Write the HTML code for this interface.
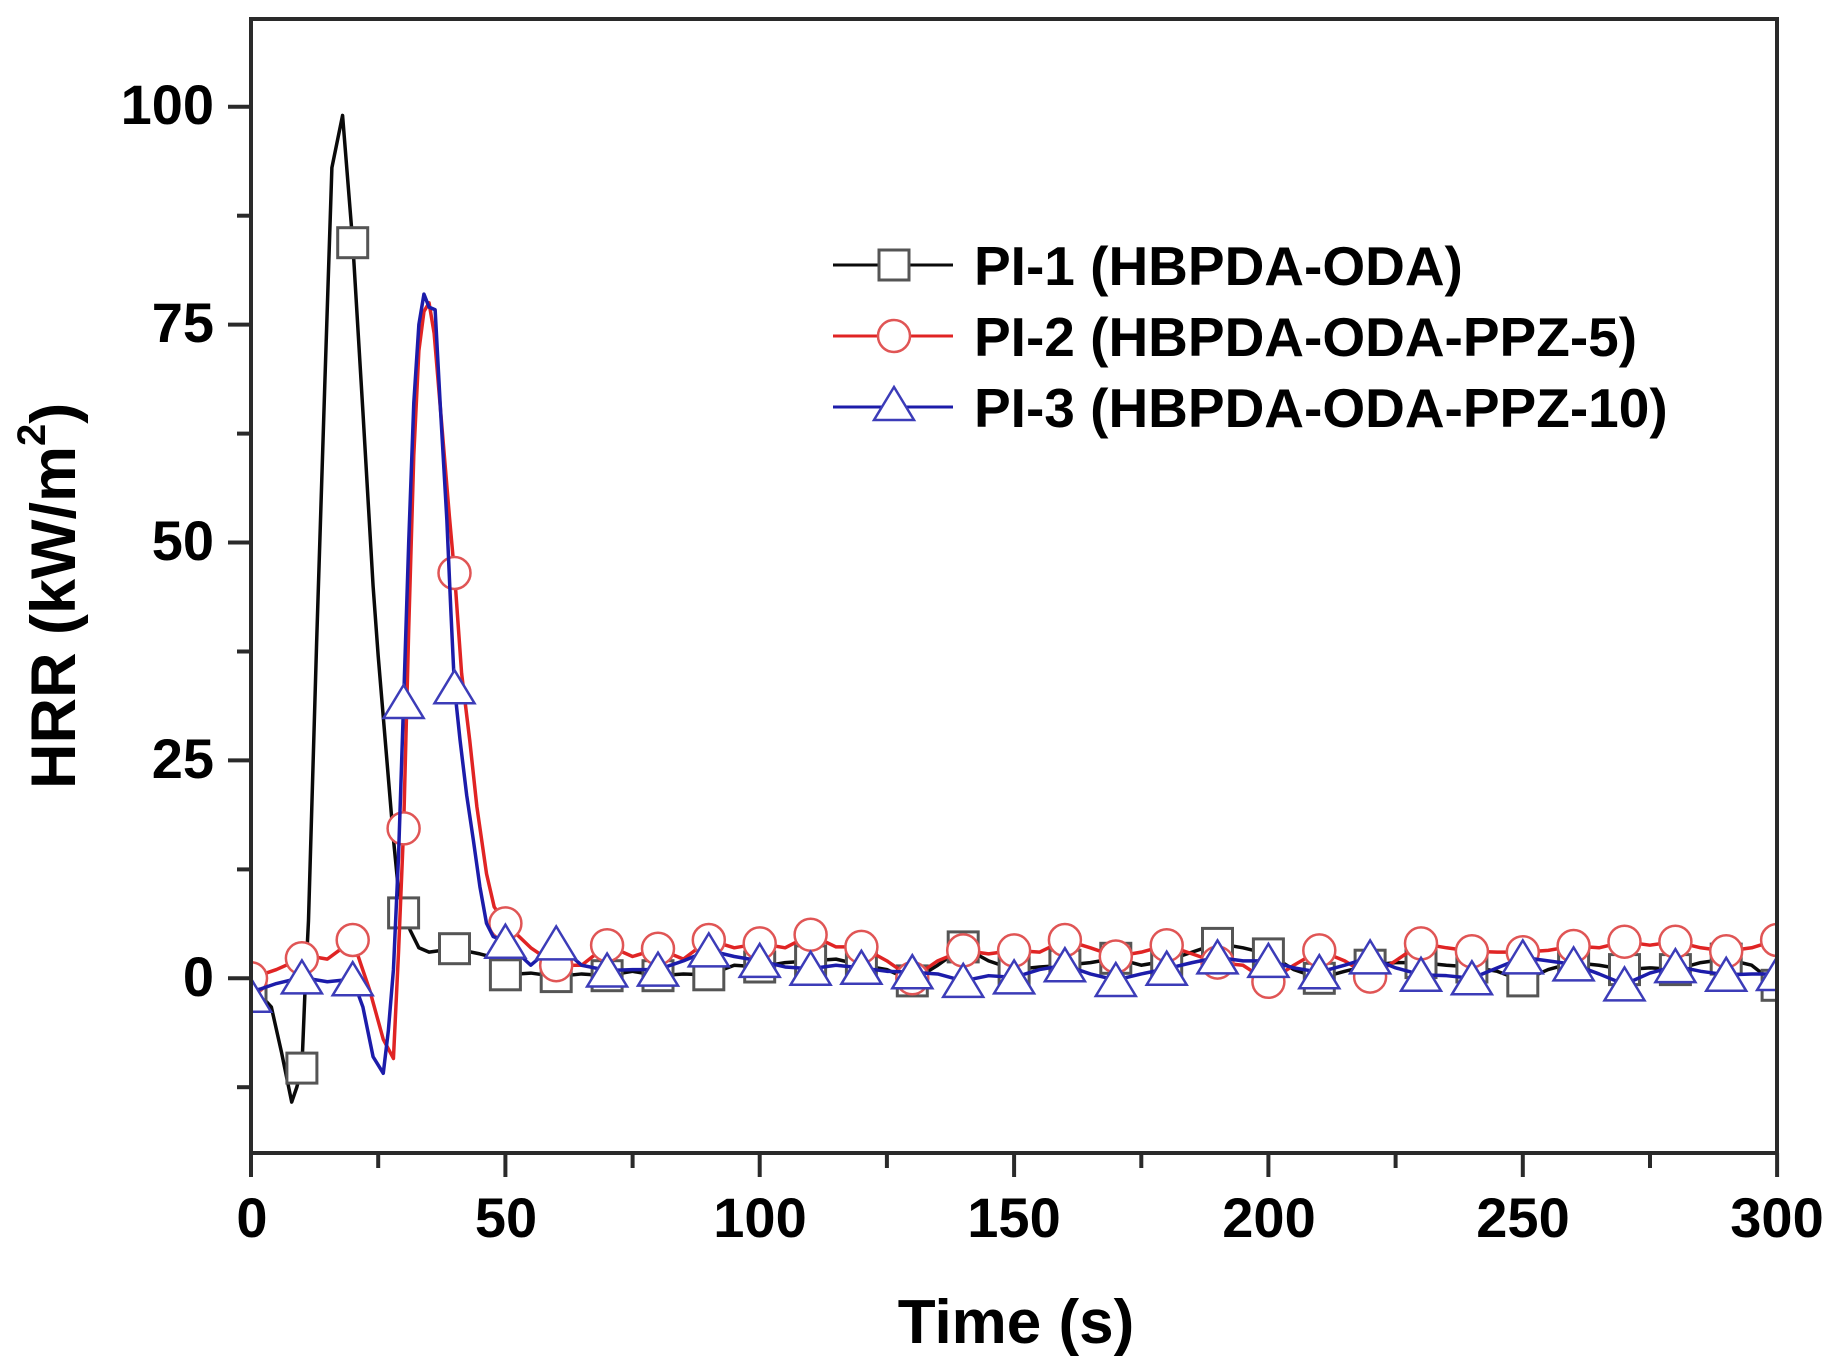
<!DOCTYPE html>
<html>
<head>
<meta charset="utf-8">
<style>
html,body{margin:0;padding:0;background:#fff;}
svg{display:block;}
text{font-family:"Liberation Sans",Arial,sans-serif;font-weight:bold;fill:#000;}
</style>
</head>
<body>
<svg width="1837" height="1369" viewBox="0 0 1837 1369" xmlns="http://www.w3.org/2000/svg">
<defs>
  <clipPath id="plot"><rect x="251" y="19" width="1526" height="1134"/></clipPath>
  <rect id="sq" x="-15" y="-15" width="30" height="30" fill="#fff" stroke="#555" stroke-width="3"/>
  <circle id="ci" cx="0" cy="0" r="16" fill="#fff" stroke="#e05555" stroke-width="2.5"/>
  <polygon id="tr" points="0,-17 20,16 -20,16" fill="#fff" stroke="#3c3cb8" stroke-width="2.5" stroke-linejoin="miter"/>
</defs>
<rect width="1837" height="1369" fill="#fff"/>

<g clip-path="url(#plot)">
  <!-- Black series -->
  <g transform="matrix(5.087 0 0 -8.716 251 978.3)">
    <polyline fill="none" stroke="#0a0a0a" stroke-width="3.5" stroke-linejoin="round" vector-effect="non-scaling-stroke"
      points="0,-1.5 2,-2 4,-3.3 6,-8.5 8,-14.2 9,-12.5 10,-10.3 10.6,-1.7 11.3,6.6 12.9,38.5 14.5,68 15.9,93 18,99 20,84.4 22,65 24,45 25,37 26,30 28,16 29,10 30,7.5 31.3,5.5 33,3.5 35,3 40,3.4 45,2.8 47,2.5 50,0.4 55,0.6 60,0.2 65,0.5 70,0.3 75,0.8 80,0.3 85,0.5 90,0.4 95,1.5 100,1.3 105,1.8 110,2 115,2.2 120,1.5 125,1 130,-0.3 135,1.5 140,3.6 145,2 150,1 155,1.3 160,1.5 165,1.8 170,2.3 175,1.5 180,2 185,3 190,4 195,3.5 200,2.8 205,1 210,0 215,0.8 220,1.5 225,1.8 230,1.8 235,1.5 240,1.3 245,0.8 250,-0.3 255,1 260,1.8 265,1.5 270,1 275,1.2 280,1 285,1.8 290,2.2 295,1.5 300,-0.8"/>
  </g>
  <g>
    <use href="#sq" x="251.0" y="991.4"/>
    <use href="#sq" x="301.9" y="1068.1"/>
    <use href="#sq" x="352.7" y="242.7"/>
    <use href="#sq" x="403.6" y="912.9"/>
    <use href="#sq" x="454.5" y="948.7"/>
    <use href="#sq" x="505.4" y="974.8"/>
    <use href="#sq" x="556.2" y="976.6"/>
    <use href="#sq" x="607.1" y="975.7"/>
    <use href="#sq" x="658.0" y="975.7"/>
    <use href="#sq" x="708.8" y="974.8"/>
    <use href="#sq" x="759.7" y="967.0"/>
    <use href="#sq" x="810.6" y="960.9"/>
    <use href="#sq" x="861.4" y="965.2"/>
    <use href="#sq" x="912.3" y="980.9"/>
    <use href="#sq" x="963.2" y="946.9"/>
    <use href="#sq" x="1014.1" y="969.6"/>
    <use href="#sq" x="1064.9" y="965.2"/>
    <use href="#sq" x="1115.8" y="958.3"/>
    <use href="#sq" x="1166.7" y="960.9"/>
    <use href="#sq" x="1217.5" y="943.4"/>
    <use href="#sq" x="1268.4" y="953.9"/>
    <use href="#sq" x="1319.3" y="978.3"/>
    <use href="#sq" x="1370.1" y="965.2"/>
    <use href="#sq" x="1421.0" y="962.6"/>
    <use href="#sq" x="1471.9" y="967.0"/>
    <use href="#sq" x="1522.8" y="980.9"/>
    <use href="#sq" x="1573.6" y="962.6"/>
    <use href="#sq" x="1624.5" y="969.6"/>
    <use href="#sq" x="1675.4" y="969.6"/>
    <use href="#sq" x="1726.2" y="959.1"/>
    <use href="#sq" x="1777.1" y="985.3"/>
  </g>

  <!-- Red series -->
  <g transform="matrix(5.087 0 0 -8.716 251 978.3)">
    <polyline fill="none" stroke="#e02424" stroke-width="3.5" stroke-linejoin="round" vector-effect="non-scaling-stroke"
      points="0,0 5,1 10,2.3 12,2.5 15,2.2 18,3.5 20,4.4 21.6,1.6 23.3,-1.3 26,-7 28,-9.2 29,3 30,17.2 31,40 32,60 33,72 34,76.5 35,77.5 36,74 37,67 38,60 39,53 40,46.5 41.4,35 43,27.3 44.4,19.7 46.3,12 47.8,8.2 50,6.3 55,3.5 60,1.5 65,1.5 70,3.8 75,2.5 80,3.4 85,2.2 90,4.4 95,3.5 100,4 105,3.5 110,5 115,3.6 120,3.6 125,2 130,0 135,2 140,3.2 145,2.8 150,3.2 155,3 160,4.4 165,3.5 170,2.5 175,3 180,3.8 185,2.8 190,1.8 195,1.5 200,-0.4 205,1.5 210,3.2 215,2 220,0.2 225,2 230,4 235,3.5 240,3.1 245,3 250,3 255,3.2 260,3.7 265,3.5 270,4.2 275,3.8 280,4.2 285,3.5 290,3.1 295,3.5 300,4.4"/>
  </g>
  <g>
    <use href="#ci" x="251.0" y="978.3"/>
    <use href="#ci" x="301.9" y="958.3"/>
    <use href="#ci" x="352.7" y="940.0"/>
    <use href="#ci" x="403.6" y="828.4"/>
    <use href="#ci" x="454.5" y="573.0"/>
    <use href="#ci" x="505.4" y="923.4"/>
    <use href="#ci" x="556.2" y="965.2"/>
    <use href="#ci" x="607.1" y="945.2"/>
    <use href="#ci" x="658.0" y="948.7"/>
    <use href="#ci" x="708.8" y="940.0"/>
    <use href="#ci" x="759.7" y="943.4"/>
    <use href="#ci" x="810.6" y="934.7"/>
    <use href="#ci" x="861.4" y="946.9"/>
    <use href="#ci" x="912.3" y="978.3"/>
    <use href="#ci" x="963.2" y="950.4"/>
    <use href="#ci" x="1014.1" y="950.4"/>
    <use href="#ci" x="1064.9" y="940.0"/>
    <use href="#ci" x="1115.8" y="956.5"/>
    <use href="#ci" x="1166.7" y="945.2"/>
    <use href="#ci" x="1217.5" y="962.6"/>
    <use href="#ci" x="1268.4" y="981.8"/>
    <use href="#ci" x="1319.3" y="950.4"/>
    <use href="#ci" x="1370.1" y="976.6"/>
    <use href="#ci" x="1421.0" y="943.4"/>
    <use href="#ci" x="1471.9" y="951.3"/>
    <use href="#ci" x="1522.8" y="952.2"/>
    <use href="#ci" x="1573.6" y="946.0"/>
    <use href="#ci" x="1624.5" y="941.7"/>
    <use href="#ci" x="1675.4" y="941.7"/>
    <use href="#ci" x="1726.2" y="951.3"/>
    <use href="#ci" x="1777.1" y="940.0"/>
  </g>

  <!-- Blue series -->
  <g transform="matrix(5.087 0 0 -8.716 251 978.3)">
    <polyline fill="none" stroke="#1c1caa" stroke-width="3.5" stroke-linejoin="round" vector-effect="non-scaling-stroke"
      points="0,-1.5 2,-1.2 5,-0.6 10,0.1 15,-0.4 20,-0.1 22,-3.3 24,-9 26,-10.9 27,-6 28,1 29,14 30,31.7 31,50 32,66 33,75 34,78.5 35,77 36.2,76.7 37.2,65.8 38.5,52.6 39.3,42 40,33.4 41.1,27.3 42.4,21 43.7,15.9 45,10.5 46.3,6.3 47.6,4.8 50,4.2 55,1.5 60,4 65,1.5 70,0.9 75,1 80,1 85,2 90,3.2 95,2.5 100,2 105,1.3 110,1.1 115,1.5 120,1.2 125,0.8 130,0.7 135,0.5 140,-0.3 145,0.3 150,0.1 155,1 160,1.5 165,0.5 170,-0.2 175,0.5 180,1.1 185,1.8 190,2.4 195,2 200,2 205,1.2 210,0.7 215,1.5 220,2.4 225,1.2 230,0.4 235,0.3 240,0 245,1.2 250,2.4 255,2 260,1.6 265,0.5 270,-0.7 275,0.6 280,1.4 285,0.8 290,0.4 295,0.5 300,0.5"/>
  </g>
  <g>
    <use href="#tr" x="251.0" y="995.7"/>
    <use href="#tr" x="301.9" y="977.4"/>
    <use href="#tr" x="352.7" y="979.2"/>
    <use href="#tr" x="403.6" y="702.0"/>
    <use href="#tr" x="454.5" y="687.2"/>
    <use href="#tr" x="505.4" y="941.7"/>
    <use href="#tr" x="556.2" y="943.4"/>
    <use href="#tr" x="607.1" y="970.5"/>
    <use href="#tr" x="658.0" y="969.6"/>
    <use href="#tr" x="708.8" y="950.4"/>
    <use href="#tr" x="759.7" y="960.9"/>
    <use href="#tr" x="810.6" y="968.7"/>
    <use href="#tr" x="861.4" y="967.8"/>
    <use href="#tr" x="912.3" y="972.2"/>
    <use href="#tr" x="963.2" y="980.9"/>
    <use href="#tr" x="1014.1" y="977.4"/>
    <use href="#tr" x="1064.9" y="965.2"/>
    <use href="#tr" x="1115.8" y="980.0"/>
    <use href="#tr" x="1166.7" y="968.7"/>
    <use href="#tr" x="1217.5" y="957.4"/>
    <use href="#tr" x="1268.4" y="960.9"/>
    <use href="#tr" x="1319.3" y="972.2"/>
    <use href="#tr" x="1370.1" y="957.4"/>
    <use href="#tr" x="1421.0" y="974.8"/>
    <use href="#tr" x="1471.9" y="978.3"/>
    <use href="#tr" x="1522.8" y="957.4"/>
    <use href="#tr" x="1573.6" y="964.4"/>
    <use href="#tr" x="1624.5" y="984.4"/>
    <use href="#tr" x="1675.4" y="966.1"/>
    <use href="#tr" x="1726.2" y="974.8"/>
    <use href="#tr" x="1777.1" y="974.0"/>
  </g>
</g>

<!-- Axes frame -->
<rect x="251" y="19" width="1526" height="1134" fill="none" stroke="#2a2a2a" stroke-width="4"/>

<!-- X ticks -->
<g stroke="#2a2a2a" stroke-width="4">
  <line x1="251" y1="1153" x2="251" y2="1177"/>
  <line x1="505.4" y1="1153" x2="505.4" y2="1177"/>
  <line x1="759.7" y1="1153" x2="759.7" y2="1177"/>
  <line x1="1014.1" y1="1153" x2="1014.1" y2="1177"/>
  <line x1="1268.4" y1="1153" x2="1268.4" y2="1177"/>
  <line x1="1522.8" y1="1153" x2="1522.8" y2="1177"/>
  <line x1="1777.1" y1="1153" x2="1777.1" y2="1177"/>
  <line x1="378.2" y1="1153" x2="378.2" y2="1168"/>
  <line x1="632.6" y1="1153" x2="632.6" y2="1168"/>
  <line x1="886.9" y1="1153" x2="886.9" y2="1168"/>
  <line x1="1141.3" y1="1153" x2="1141.3" y2="1168"/>
  <line x1="1395.6" y1="1153" x2="1395.6" y2="1168"/>
  <line x1="1650.0" y1="1153" x2="1650.0" y2="1168"/>
</g>
<!-- Y ticks -->
<g stroke="#2a2a2a" stroke-width="4">
  <line x1="228" y1="978.3" x2="251" y2="978.3"/>
  <line x1="228" y1="760.4" x2="251" y2="760.4"/>
  <line x1="228" y1="542.5" x2="251" y2="542.5"/>
  <line x1="228" y1="324.6" x2="251" y2="324.6"/>
  <line x1="228" y1="106.7" x2="251" y2="106.7"/>
  <line x1="237" y1="1087.2" x2="251" y2="1087.2"/>
  <line x1="237" y1="869.4" x2="251" y2="869.4"/>
  <line x1="237" y1="651.5" x2="251" y2="651.5"/>
  <line x1="237" y1="433.6" x2="251" y2="433.6"/>
  <line x1="237" y1="215.7" x2="251" y2="215.7"/>
</g>

<!-- Tick labels -->
<g font-size="56" text-anchor="end">
  <text x="214" y="996">0</text>
  <text x="214" y="778">25</text>
  <text x="214" y="560">50</text>
  <text x="214" y="342">75</text>
  <text x="214" y="124">100</text>
</g>
<g font-size="56" text-anchor="middle">
  <text x="252" y="1237">0</text>
  <text x="506" y="1237">50</text>
  <text x="760" y="1237">100</text>
  <text x="1014" y="1237">150</text>
  <text x="1269" y="1237">200</text>
  <text x="1523" y="1237">250</text>
  <text x="1777" y="1237">300</text>
</g>

<!-- Axis titles -->
<text x="1016" y="1343" font-size="62" text-anchor="middle">Time (s)</text>
<text transform="translate(75,789) rotate(-90)" font-size="63">HRR (kW/m<tspan font-size="40" dy="-30">2</tspan><tspan dy="30">)</tspan></text>

<!-- Legend -->
<g>
  <line x1="833" y1="265" x2="953" y2="265" stroke="#0a0a0a" stroke-width="3"/>
  <use href="#sq" x="894" y="265"/>
  <text x="974" y="285" font-size="55">PI-1 (HBPDA-ODA)</text>

  <line x1="833" y1="336" x2="953" y2="336" stroke="#e02424" stroke-width="3"/>
  <use href="#ci" x="894" y="336"/>
  <text x="974" y="356" font-size="55">PI-2 (HBPDA-ODA-PPZ-5)</text>

  <line x1="833" y1="407" x2="953" y2="407" stroke="#1c1caa" stroke-width="3"/>
  <use href="#tr" x="894" y="404"/>
  <text x="974" y="427" font-size="55">PI-3 (HBPDA-ODA-PPZ-10)</text>
</g>
</svg>
</body>
</html>
